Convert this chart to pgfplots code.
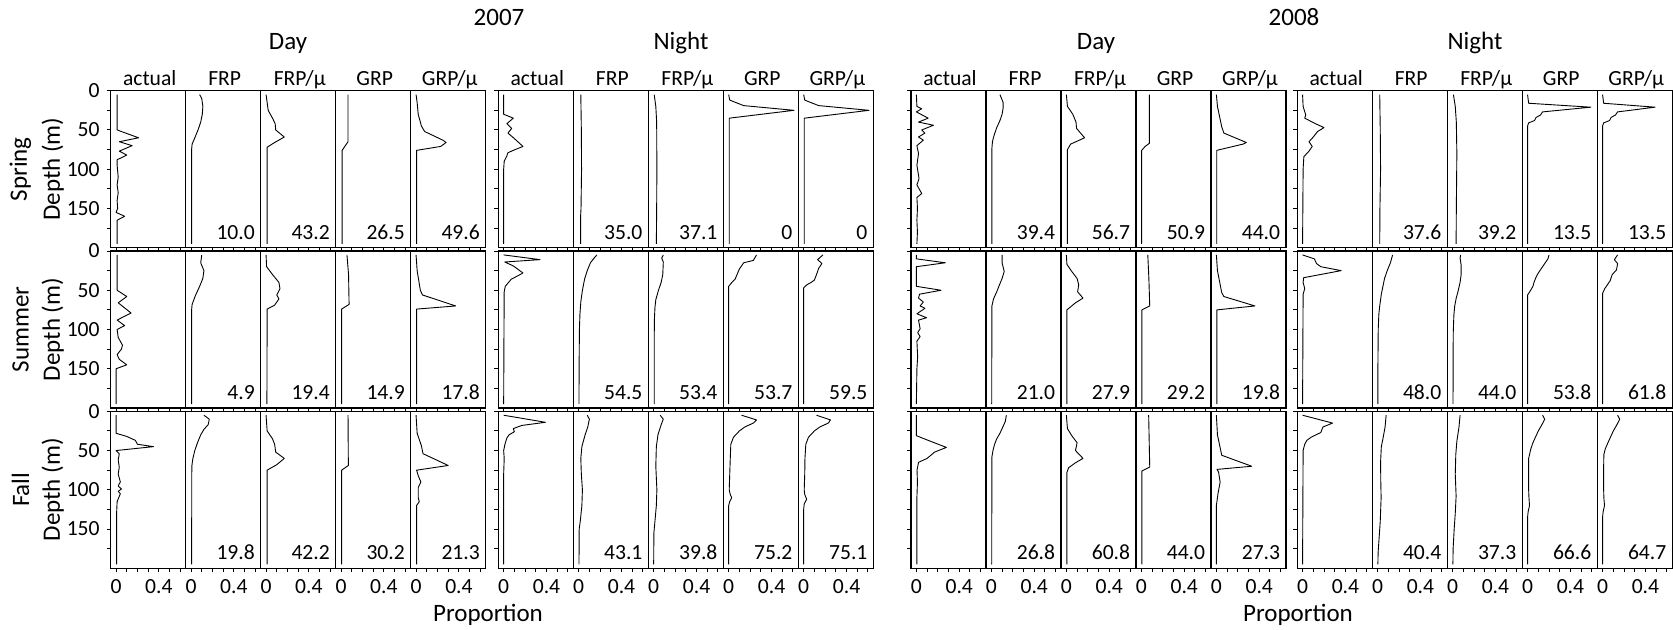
\documentclass[border=0pt]{standalone}
\usepackage{pgfplots}
\pgfplotsset{compat=1.18}
\usepackage{fontspec}
\setmainfont{Carlito}
\newcommand{\bigfont}{\fontsize{12.5}{14}\selectfont}
\newcommand{\smallfont}{\fontsize{10.8}{12}\selectfont}

\pgfplotsset{
  panel/.style={
    scale only axis, width=37.5pt, height=78.5pt,
    xmin=-0.05, xmax=0.65, ymin=0, ymax=200, y dir=reverse,
    xtick={0,0.4}, minor xtick={0.1,0.2,0.3,0.5,0.6},
    xticklabels={}, ytick=\empty,
    tick align=outside, major tick length=2pt, minor tick length=2pt,
    axis line style={line width=0.65pt},
    every tick/.style={black, line width=0.5pt},
    tick label style={font=\smallfont},
    /pgf/number format/assume math mode=true,
    xtick pos=bottom, ytick pos=left,
  },
  bottomrow/.style={xticklabels={0,0.4}},
  depthticks/.style={ytick={0,50,100,150}, minor ytick={25,75,125,175}, yticklabels={}},
  depthlabels/.style={yticklabels={0,50,100,150}},
}
\tikzset{
  profile/.style={black, line width=0.45pt, line join=round, mark=none},
  numlab/.style={anchor=base east, font=\smallfont, inner sep=0pt},
}

% #1 left edge, #2 top edge (px from the top-left corner), #3 axis options,
% #4 profile coordinates (proportion, depth), #5 value printed in the corner
\newcommand{\panel}[5]{%
  \begin{axis}[panel, at={({#1*0.5pt},{-#2*0.5pt})}, anchor=north west, name=pnl, #3]
    \addplot[profile] coordinates {#4};
  \end{axis}
  \node[numlab] at ([xshift=-2.75pt,yshift=4.25pt]pnl.south east) {#5};
}

\begin{document}
\begin{tikzpicture}
\useasboundingbox (0,0) rectangle (836.5pt,-315pt);

% ---------------- 2007, Day ----------------
% Spring
\panel{110.7}{90.7}{depthticks,depthlabels}{(0.01,5)(0.01,50)(0.21,60)(0.03,65)(0.15,70)(0.03,77)(0.1,82)(0.01,88)(0.01,95)(0.02,110)(0.01,120)(0.02,130)(0.01,140)(0.015,150)(0.0,155)(0.08,160)(0.01,165)(0.01,175)(0.01,195)}{}
\panel{185.7}{90.7}{}{(0.08,5)(0.1,10)(0.11,20)(0.105,30)(0.09,40)(0.065,50)(0.035,60)(0.01,68)(0.005,75)(0.005,195)}{10.0}
\panel{260.7}{90.7}{}{(0.0,5)(0.01,15)(0.02,25)(0.06,35)(0.085,42)(0.09,50)(0.17,59)(0.08,66)(0.01,72)(0.01,195)}{43.2}
\panel{335.7}{90.7}{}{(0.065,5)(0.065,65)(0.01,76)(0.01,195)}{26.5}
\panel{410.7}{90.7}{}{(0.0,5)(0.01,15)(0.02,30)(0.05,45)(0.08,52)(0.25,63)(0.28,66)(0.23,71)(0.005,76)(0.005,195)}{49.6}
% Summer
\panel{110.7}{251}{depthticks,depthlabels}{(0.01,5)(0.01,50)(0.1,58)(0.02,66)(0.14,79)(0.01,88)(0.08,95)(0.01,100)(0.02,110)(0.06,120)(0.05,125)(0.01,132)(0.03,138)(0.1,145)(0.0,150)(0.0,195)}{}
\panel{185.7}{251}{}{(0.1,5)(0.09,15)(0.12,25)(0.11,35)(0.08,45)(0.04,57)(0.01,68)(0.005,75)(0.005,195)}{4.9}
\panel{260.7}{251}{}{(0.0,5)(0.005,20)(0.06,30)(0.12,40)(0.13,48)(0.1,56)(0.12,61)(0.08,69)(0.01,74)(0.008,195)}{19.4}
\panel{335.7}{251}{}{(0.055,5)(0.07,30)(0.075,68)(0.005,74)(0.005,195)}{14.9}
\panel{410.7}{251}{}{(0.0,5)(0.01,25)(0.04,50)(0.06,56)(0.37,70)(0.005,74)(0.005,195)}{17.8}
% Fall
\panel{110.7}{411.3}{depthticks,depthlabels,bottomrow}{(0.0,5)(0.0,28)(0.1,32)(0.18,37)(0.2,42)(0.35,45)(0.0,50)(0.03,54)(0.02,62)(0.03,71)(0.02,80)(0.04,90)(0.02,95)(0.05,99)(0.02,102)(0.04,105)(0.01,115)(0.005,130)(0.005,195)}{}
\panel{185.7}{411.3}{bottomrow}{(0.12,5)(0.17,10)(0.16,17)(0.12,23)(0.09,30)(0.06,40)(0.035,50)(0.017,60)(0.007,70)(0.005,195)}{19.8}
\panel{260.7}{411.3}{bottomrow}{(0.0,5)(0.01,25)(0.06,35)(0.08,42)(0.09,52)(0.17,60)(0.1,68)(0.01,75)(0.01,195)}{42.2}
\panel{335.7}{411.3}{bottomrow}{(0.065,5)(0.068,69)(0.005,75)(0.005,195)}{30.2}
\panel{410.7}{411.3}{bottomrow}{(0.0,5)(0.01,28)(0.05,44)(0.065,54)(0.3,69)(0.005,75)(0.02,82)(0.045,90)(0.02,97)(0.02,110)(0.03,115)(0.005,120)(0.005,195)}{21.3}

% ---------------- 2007, Night ----------------
\panel{498.3}{90.7}{depthticks}{(0.0,5)(0.0,30)(0.09,35)(0.03,42)(0.075,48)(0.04,54)(0.1,61)(0.18,71)(0.09,76)(0.04,79)(0.03,83)(0.005,90)(0.0,100)(0.0,195)}{}
\panel{573.3}{90.7}{}{(0.02,5)(0.025,50)(0.027,100)(0.022,150)(0.018,160)(0.018,195)}{35.0}
\panel{648.3}{90.7}{}{(0.005,5)(0.02,20)(0.028,40)(0.03,100)(0.028,150)(0.025,195)}{37.1}
\panel{723.3}{90.7}{}{(0.0,5)(0.01,12)(0.14,19)(0.61,25)(0.005,35)(0.005,195)}{0}
\panel{798.3}{90.7}{}{(0.0,5)(0.01,12)(0.14,19)(0.61,25)(0.005,35)(0.005,195)}{0}
\panel{498.3}{251}{depthticks}{(0.0,5)(0.34,11)(0.01,14)(0.09,19)(0.18,28)(0.14,31)(0.07,36)(0.015,45)(0.005,52)(0.003,100)(0.0,195)}{}
\panel{573.3}{251}{}{(0.17,5)(0.15,8)(0.11,15)(0.08,25)(0.055,36)(0.035,50)(0.02,65)(0.012,80)(0.007,100)(0.004,150)(0.003,195)}{54.5}
\panel{648.3}{251}{}{(0.09,5)(0.075,9)(0.09,14)(0.085,30)(0.07,40)(0.045,50)(0.02,62)(0.012,72)(0.006,90)(0.005,195)}{53.4}
\panel{723.3}{251}{}{(0.26,5)(0.23,12)(0.14,15)(0.1,23)(0.075,31)(0.06,36)(0.03,40)(0.0,45)(0.0,195)}{53.7}
\panel{798.3}{251}{}{(0.18,5)(0.13,11)(0.17,16)(0.14,22)(0.12,30)(0.1,37)(0.07,40)(0.03,43)(0.0,47)(0.0,195)}{59.5}
\panel{498.3}{411.3}{depthticks,bottomrow}{(0.0,5)(0.39,14)(0.17,18)(0.09,22)(0.1,26)(0.05,30)(0.03,34)(0.012,42)(0.0,50)(0.005,60)(0.0,80)(0.0,195)}{}
\panel{573.3}{411.3}{bottomrow}{(0.08,5)(0.1,10)(0.085,20)(0.06,30)(0.03,45)(0.02,60)(0.025,80)(0.035,100)(0.03,120)(0.015,140)(0.005,150)(0.003,195)}{43.1}
\panel{648.3}{411.3}{bottomrow}{(0.06,5)(0.09,10)(0.07,17)(0.04,30)(0.025,45)(0.02,70)(0.03,100)(0.025,120)(0.012,140)(0.002,155)(0.0,195)}{39.8}
\panel{723.3}{411.3}{bottomrow}{(0.12,5)(0.26,11)(0.23,15)(0.15,20)(0.1,25)(0.045,33)(0.02,42)(0.015,60)(0.01,80)(0.005,100)(0.015,106)(0.028,110)(0.01,115)(0.0,120)(0.0,195)}{75.2}
\panel{798.3}{411.3}{bottomrow}{(0.12,5)(0.25,11)(0.23,15)(0.15,20)(0.1,25)(0.045,33)(0.02,42)(0.012,60)(0.01,80)(0.005,100)(0.01,106)(0.028,112)(0.005,118)(0.0,125)(0.0,195)}{75.1}

% ---------------- 2008, Day ----------------
\panel{911}{90.7}{depthticks}{(0.0,5)(0.005,20)(0.05,23)(0.0,27)(0.11,35)(0.02,40)(0.16,44)(0.05,50)(0.08,54)(0.02,59)(0.065,63)(0.005,70)(0.02,80)(0.005,95)(0.025,112)(0.005,120)(0.05,131)(0.005,136)(0.01,150)(0.005,165)(0.01,180)(0.005,195)}{}
\panel{986}{90.7}{}{(0.08,5)(0.11,15)(0.11,22)(0.1,30)(0.08,38)(0.05,47)(0.025,57)(0.01,65)(0.004,75)(0.004,195)}{39.4}
\panel{1061}{90.7}{}{(0.0,5)(0.01,20)(0.06,30)(0.09,40)(0.095,48)(0.17,60)(0.04,68)(0.01,75)(0.01,195)}{56.7}
\panel{1136}{90.7}{}{(0.075,5)(0.075,67)(0.035,71)(0.003,76)(0.003,195)}{50.9}
\panel{1211}{90.7}{}{(0.0,5)(0.01,20)(0.05,46)(0.07,54)(0.28,66)(0.25,68)(0.003,76)(0.003,195)}{44.0}
\panel{911}{251}{depthticks}{(0.0,5)(0.0,10)(0.27,15)(0.0,20)(0.0,45)(0.23,50)(0.03,55)(0.02,60)(0.065,65)(0.035,70)(0.08,73)(0.005,80)(0.095,85)(0.02,88)(0.035,99)(0.012,104)(0.035,109)(0.005,115)(0.012,135)(0.005,150)(0.0,195)}{}
\panel{986}{251}{}{(0.1,5)(0.1,15)(0.12,26)(0.1,35)(0.07,45)(0.05,52)(0.02,61)(0.005,70)(0.003,195)}{21.0}
\panel{1061}{251}{}{(0.0,5)(0.005,17)(0.05,26)(0.1,35)(0.115,43)(0.105,52)(0.155,60)(0.085,66)(0.005,75)(0.005,195)}{27.9}
\panel{1136}{251}{}{(0.06,5)(0.07,35)(0.078,70)(0.005,75)(0.005,195)}{29.2}
\panel{1211}{251}{}{(0.0,5)(0.01,25)(0.05,53)(0.07,58)(0.36,70)(0.005,75)(0.005,195)}{19.8}
\panel{911}{411.3}{depthticks,bottomrow}{(0.0,5)(0.0,31)(0.11,37)(0.28,46)(0.17,52)(0.1,60)(0.02,65)(0.006,75)(0.01,90)(0.005,110)(0.005,195)}{}
\panel{986}{411.3}{bottomrow}{(0.14,5)(0.13,13)(0.1,22)(0.08,28)(0.05,35)(0.03,42)(0.015,50)(0.005,58)(0.003,195)}{26.8}
\panel{1061}{411.3}{bottomrow}{(0.0,5)(0.01,22)(0.05,31)(0.1,40)(0.085,50)(0.155,60)(0.08,66)(0.02,72)(0.005,78)(0.005,195)}{60.8}
\panel{1136}{411.3}{bottomrow}{(0.068,5)(0.078,71)(0.005,76)(0.005,195)}{44.0}
\panel{1211}{411.3}{bottomrow}{(0.0,5)(0.01,30)(0.05,56)(0.33,70)(0.005,74)(0.02,77)(0.035,90)(0.015,105)(0.0,120)(0.0,195)}{27.3}

% ---------------- 2008, Night ----------------
\panel{1297.2}{90.7}{depthticks}{(0.0,5)(0.005,20)(0.03,31)(0.02,35)(0.12,42)(0.2,47)(0.14,52)(0.1,59)(0.06,65)(0.09,71)(0.06,77)(0.012,84)(0.005,100)(0.0,195)}{}
\panel{1372.2}{90.7}{}{(0.02,5)(0.025,50)(0.028,100)(0.022,150)(0.02,195)}{37.6}
\panel{1447.2}{90.7}{}{(0.008,5)(0.025,20)(0.035,40)(0.04,80)(0.035,150)(0.033,195)}{39.2}
\panel{1522.2}{90.7}{}{(0.0,5)(0.01,16)(0.59,21)(0.14,27)(0.12,31)(0.08,34)(0.065,38)(0.01,41)(0.0,45)(0.0,195)}{13.5}
\panel{1597.2}{90.7}{}{(0.0,5)(0.01,16)(0.49,21)(0.14,27)(0.12,31)(0.08,34)(0.065,38)(0.01,41)(0.0,45)(0.0,195)}{13.5}
\panel{1297.2}{251}{depthticks}{(0.0,5)(0.11,10)(0.13,16)(0.17,20)(0.36,25)(0.01,34)(0.005,40)(0.02,48)(0.005,55)(0.0,195)}{}
\panel{1372.2}{251}{}{(0.14,5)(0.12,15)(0.09,25)(0.065,35)(0.05,45)(0.035,55)(0.02,70)(0.012,80)(0.006,100)(0.003,150)(0.003,195)}{48.0}
\panel{1447.2}{251}{}{(0.075,5)(0.07,9)(0.08,18)(0.08,30)(0.07,40)(0.05,52)(0.034,60)(0.02,70)(0.012,82)(0.006,105)(0.004,195)}{44.0}
\panel{1522.2}{251}{}{(0.2,5)(0.19,10)(0.14,20)(0.1,28)(0.08,33)(0.06,40)(0.05,45)(0.02,52)(0.0,56)(0.0,195)}{53.8}
\panel{1597.2}{251}{}{(0.14,5)(0.11,11)(0.14,16)(0.13,24)(0.09,30)(0.07,38)(0.04,44)(0.02,48)(0.0,54)(0.0,195)}{61.8}
\panel{1297.2}{411.3}{depthticks,bottomrow}{(0.0,5)(0.28,15)(0.19,20)(0.17,27)(0.08,33)(0.04,37)(0.02,42)(0.005,50)(0.0,195)}{}
\panel{1372.2}{411.3}{bottomrow}{(0.08,5)(0.07,20)(0.05,35)(0.035,45)(0.028,65)(0.03,90)(0.033,110)(0.025,140)(0.015,160)(0.005,180)(0.003,195)}{40.4}
\panel{1447.2}{411.3}{bottomrow}{(0.07,5)(0.06,20)(0.04,38)(0.03,55)(0.025,80)(0.033,108)(0.025,130)(0.015,150)(0.005,175)(0.003,195)}{37.3}
\panel{1522.2}{411.3}{bottomrow}{(0.14,5)(0.16,10)(0.13,18)(0.1,25)(0.08,31)(0.05,40)(0.03,48)(0.01,60)(0.01,100)(0.012,108)(0.018,120)(0.005,128)(0.0,135)(0.0,195)}{66.6}
\panel{1597.2}{411.3}{bottomrow}{(0.14,5)(0.16,10)(0.13,18)(0.1,25)(0.08,31)(0.05,40)(0.025,48)(0.012,55)(0.01,70)(0.01,100)(0.012,110)(0.018,120)(0.005,128)(0.0,135)(0.0,195)}{64.7}

% ---------------- titles and labels ----------------
\begin{scope}[x=0.5pt,y=-0.5pt]
  \node[font=\bigfont, anchor=base] at (499,26) {2007};
  \node[font=\bigfont, anchor=base] at (1294,26) {2008};
  \node[font=\bigfont, anchor=base] at (288,50) {Day};
  \node[font=\bigfont, anchor=base] at (681,50) {Night};
  \node[font=\bigfont, anchor=base] at (1096,50) {Day};
  \node[font=\bigfont, anchor=base] at (1475,50) {Night};
  \foreach \g in {110.7,498.3,911,1297.2}{
    \foreach \t [count=\i from 0] in {actual,FRP,FRP/μ,GRP,GRP/μ}{
      \node[font=\smallfont, anchor=base] at ({\g+39+75*\i},86) {\t};
    }
  }
  \foreach \r/\yc in {Spring/169.2,Summer/329.5,Fall/489.8}{
    \node[font=\bigfont, rotate=90] at (20.5,\yc) {\r};
    \node[font=\bigfont, rotate=90] at (52.7,\yc) {Depth (m)};
  }
  \node[font=\bigfont] at (488,615) {Proportion};
  \node[font=\bigfont] at (1298,615) {Proportion};
\end{scope}
\end{tikzpicture}
\end{document}
